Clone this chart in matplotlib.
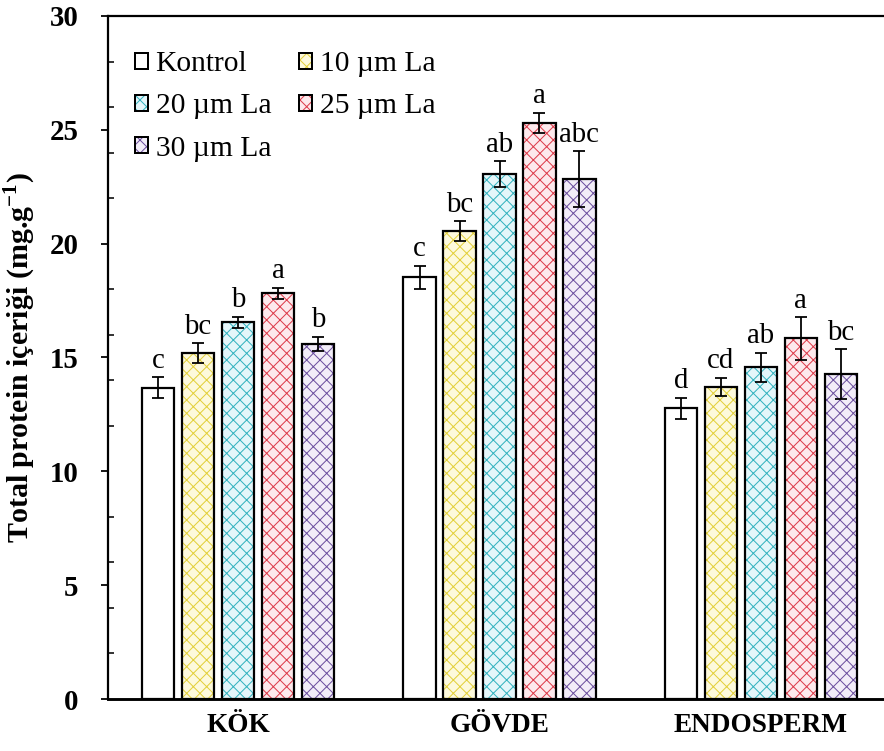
import numpy as np
import matplotlib
matplotlib.use("Agg")
import matplotlib.pyplot as plt
import matplotlib.patches as mpatches
from matplotlib.ticker import MultipleLocator

plt.rcParams['font.family'] = ['Liberation Serif', 'DejaVu Serif']
plt.rcParams['hatch.linewidth'] = 0.9

tissues = ["KÖK", "GÖVDE", "ENDOSPERM"]
treatments = ["Kontrol", "10 µm La", "20 µm La", "25 µm La", "30 µm La"]

# mean total protein (mg/g) per treatment, columns follow tissues
kontrol = [13.68, 18.52, 12.77]
la10 = [15.21, 20.55, 13.72]
la20 = [16.54, 23.07, 14.57]
la25 = [17.82, 25.31, 15.84]
la30 = [15.59, 22.84, 14.27]

kontrol_err = [0.45, 0.52, 0.46]
la10_err = [0.43, 0.44, 0.40]
la20_err = [0.25, 0.56, 0.64]
la25_err = [0.25, 0.45, 0.93]
la30_err = [0.32, 1.22, 1.10]

kontrol_sig = ["c", "c", "d"]
la10_sig = ["bc", "bc", "cd"]
la20_sig = ["b", "ab", "ab"]
la25_sig = ["a", "a", "a"]
la30_sig = ["b", "abc", "bc"]

means = [kontrol, la10, la20, la25, la30]
errs = [kontrol_err, la10_err, la20_err, la25_err, la30_err]
sigs = [kontrol_sig, la10_sig, la20_sig, la25_sig, la30_sig]

fills = ["white", "#fdf9dc", "#e4f6fa", "#fde9ec", "#f2edf8"]
hatch_cols = [None, "#e2cf3a", "#33b2bf", "#dd3b4a", "#6b4f9e"]

fig = plt.figure(figsize=(11.05, 9.3875), dpi=80)
ax = fig.add_axes([107.5 / 884, 52 / 751, 784 / 884, 683 / 751])

x = np.arange(len(tissues))
step = 0.153
width = 0.123

handles = []
for i, name in enumerate(treatments):
    pos = x + (i - 2) * step
    if hatch_cols[i] is None:
        ax.bar(pos, means[i], width, color=fills[i], edgecolor="none", zorder=2)
        under = mpatches.Patch(facecolor=fills[i], edgecolor="none")
    else:
        ax.bar(pos, means[i], width, color=fills[i], edgecolor=hatch_cols[i],
               hatch="xx", linewidth=0, zorder=2)
        under = mpatches.Patch(facecolor=fills[i], edgecolor=hatch_cols[i],
                               hatch="xx", linewidth=0)
    ax.bar(pos, means[i], width, facecolor="none", edgecolor="black",
           linewidth=2.0, zorder=3)
    ax.errorbar(pos, means[i], yerr=errs[i], fmt="none", ecolor="black",
                elinewidth=1.6, capsize=5, capthick=1.6, zorder=4)
    for px, m, e, s in zip(pos, means[i], errs[i], sigs[i]):
        ax.text(px, m + e + 0.15, s, ha="center", va="bottom", fontsize=26)
    edge = mpatches.Patch(facecolor="none", edgecolor="black", linewidth=1.8)
    handles.append((under, edge))

ax.set_xlim(-0.5, 2.5)
ax.set_ylim(0, 30)
ax.set_xticks(x)
ax.set_xticklabels(tissues, fontsize=24.5, fontweight="bold")
ax.tick_params(axis="x", length=0, pad=13)
ax.yaxis.set_major_locator(MultipleLocator(5))
ax.yaxis.set_minor_locator(MultipleLocator(2))
ax.tick_params(axis="y", which="major", direction="out", length=6, width=1.6,
               labelsize=26, pad=20)
ax.tick_params(axis="y", which="minor", direction="in", length=5, width=1.4)
for lab in ax.get_yticklabels():
    lab.set_fontweight("bold")
ax.set_ylabel("Total protein içeriği (mg.g$^{\\mathregular{-1}}$)",
              fontsize=27, fontweight="bold", labelpad=10)

for side in ["left", "top", "right"]:
    ax.spines[side].set_linewidth(2.0)
ax.spines["bottom"].set_linewidth(2.6)

# legend filled row by row: first column Kontrol/20/30, second 10/25
order = [0, 2, 4, 1, 3]
ax.legend([handles[k] for k in order], [treatments[k] for k in order],
          ncol=2, loc="upper left", bbox_to_anchor=(0.005, 0.983),
          frameon=False, fontsize=26.5, handlelength=0.45, handleheight=0.45,
          handletextpad=0.25, labelspacing=0.55, columnspacing=0.95,
          borderaxespad=0.4)

fig.savefig("out.png", dpi=80)
